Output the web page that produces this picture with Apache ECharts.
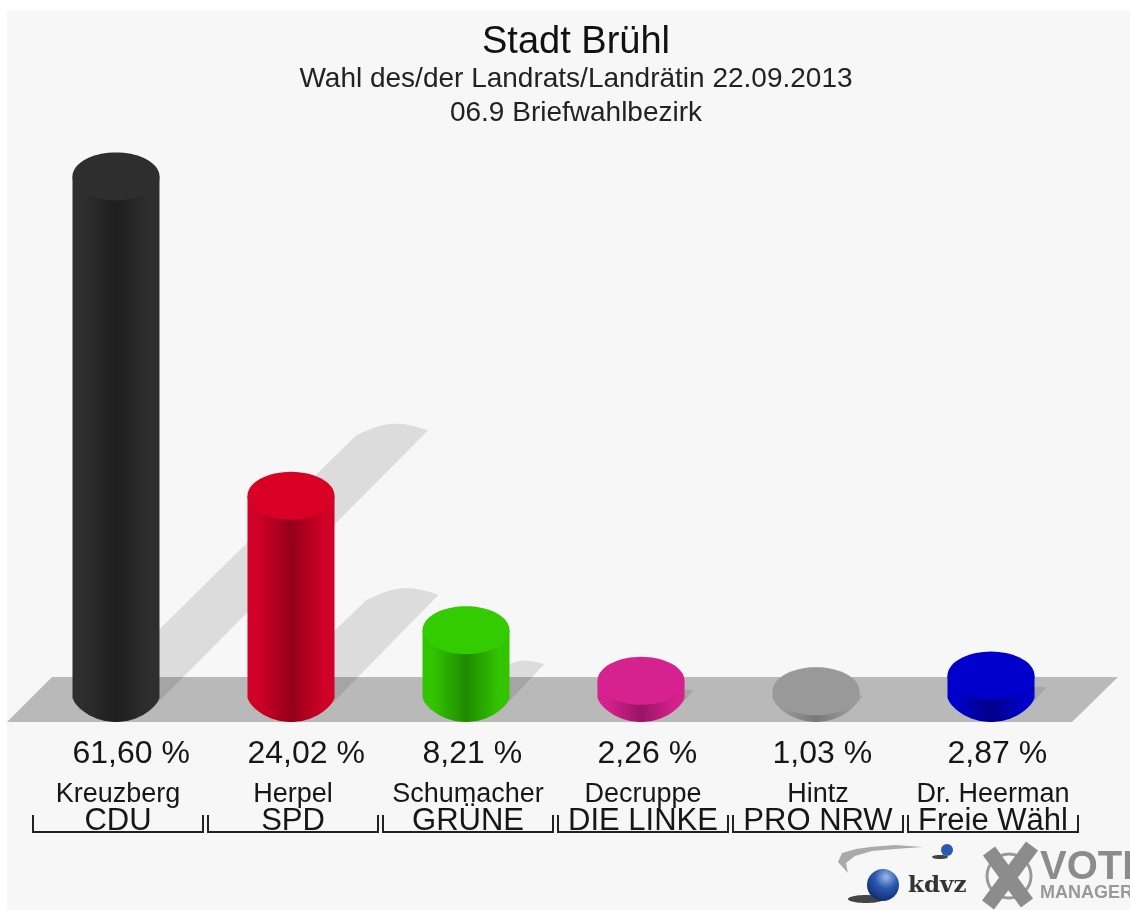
<!DOCTYPE html>
<html><head><meta charset="utf-8">
<style>html,body{margin:0;padding:0;background:#fff}#c{width:1130px;height:910px;filter:blur(0.5px)}</style>
<script src="https://cdn.jsdelivr.net/npm/echarts@6/dist/echarts.min.js"></script>
</head><body><div id="c"></div>
<script>
const parties = ['CDU','SPD','GRÜNE','DIE LINKE','PRO NRW','Freie Wähl'];
const candidates = ['Kreuzberg','Herpel','Schumacher','Decruppe','Hintz','Dr. Heerman'];
const shares = [61.60,24.02,8.21,2.26,1.03,2.87];
const shareLabels = ['61,60 %','24,02 %','8,21 %','2,26 %','1,03 %','2,87 %'];
const topColors = ['#2e2e2e','#d90026','#33cc00','#d6228f','#999999','#0000cc'];
const edgeColors = ['#2e2e2e','#d00026','#33c400','#d4218c','#999999','#0000c8'];
const coreColors = ['#1e1e1e','#94001a','#1f8a00','#981565','#777777','#000088'];
const FONT = '"Liberation Sans", Arial, sans-serif';
const TXT = '#161616';

function ell(cx, cy, rx, ry) {
  const p = [];
  for (let a = 0; a < 72; a++) {
    const t = a / 72 * 2 * Math.PI;
    p.push([cx + rx * Math.cos(t), cy + ry * Math.sin(t)]);
  }
  return p;
}

function renderBar(params, api) {
  const i = api.value(0), v = api.value(1);
  const base = api.coord([i, 0]), top = api.coord([i, v]);
  const cx = base[0], by = base[1], ty = top[1];
  const rx = api.size([1, 0])[0] * 0.2486, ryTop = 24, ryBase = 22;
  const h = by - ty, dy = h * 0.515;
  const bottom = [[cx - rx, ty], [cx - rx, by - 2]];
  for (let a = 1; a < 40; a++) {
    const u = -1 + a / 20;
    bottom.push([cx + rx * u, by - 2 + (ryBase + 2) * Math.pow(1 - u * u, 0.72)]);
  }
  bottom.push([cx + rx, by - 2], [cx + rx, ty]);
  // slanted cast shadow, rounded at its far end
  const tipX = cx + rx - 1 + dy, tipY = by - dy;
  const w = Math.min(72, 10 + dy);
  const sh = [[cx + rx - 1, by + 2], [tipX, tipY]];
  for (let a = 1; a < 20; a++) {
    const t = a / 20;
    sh.push([tipX - w * t, tipY + 5 * t - (w / 8) * Math.sin(Math.PI * t)]);
  }
  sh.push([tipX - w, tipY + 5], [cx - rx + 5, by + 10]);
  const barGrad = { type:'linear', x:0, y:0, x2:1, y2:0, colorStops:[
    {offset:0, color:edgeColors[i]}, {offset:0.12, color:edgeColors[i]},
    {offset:0.5, color:coreColors[i]}, {offset:0.88, color:edgeColors[i]}, {offset:1, color:edgeColors[i]} ]};
  const sy = by + 54, ny = by + 95, py = by + 121;
  const bx0 = cx - 83, bx1 = cx + 87;
  return { type:'group', children:[
    { type:'polygon', z2:1, shape:{points:sh}, style:{fill:'rgba(0,0,0,0.105)'} },
    { type:'polygon', z2:2, shape:{points:bottom}, style:{fill:barGrad} },
    { type:'polygon', z2:3, shape:{points:ell(cx, ty, rx, ryTop)}, style:{fill:topColors[i]} },
    { type:'text', z2:4, style:{text:shareLabels[i], x:cx - rx, y:sy, align:'left', verticalAlign:'middle', fill:TXT, font:'32px '+FONT} },
    { type:'text', z2:4, style:{text:candidates[i], x:cx + 2, y:ny, align:'center', verticalAlign:'middle', fill:TXT, font:'27px '+FONT} },
    { type:'text', z2:4, style:{text:parties[i], x:cx + 2, y:py, align:'center', verticalAlign:'middle', fill:TXT, font:'31px '+FONT} },
    { type:'polyline', z2:4, shape:{points:[[bx0,by+115],[bx0,by+132],[bx1,by+132],[bx1,by+115]]}, style:{stroke:'#222', lineWidth:2, fill:null} }
  ]};
}

const chart = echarts.init(document.getElementById('c'), null, {renderer:'canvas'});
chart.setOption({
  animation:false,
  backgroundColor:'#ffffff',
  title:{ left:571, top:19, textAlign:'center', text:'Stadt Brühl',
    textStyle:{fontFamily:FONT, fontSize:38, fontWeight:'normal', color:'#111'},
    subtext:'Wahl des/der Landrats/Landrätin 22.09.2013\n06.9 Briefwahlbezirk', itemGap:0,
    subtextStyle:{fontFamily:FONT, fontSize:28, color:'#222', lineHeight:34} },
  grid:{ left:28.5, width:1050, top:105, height:595, containLabel:false },
  xAxis:{ type:'category', data:parties, show:false, boundaryGap:true },
  yAxis:{ type:'value', min:0, max:70, show:false },
  graphic:[
    { type:'rect', z:-10, shape:{x:7,y:10,width:1123,height:900}, style:{fill:'#f7f7f7'} },
    { type:'polygon', z:-9, shape:{points:[[7,722],[52,677],[1118,677],[1072,722]]}, style:{fill:'#b9b9b9'} },
    { type:'group', z:5, children:[
      { type:'polygon', shape:{points:[[848,873],[838,862],[842,853],[856,849],[870,847],[895,845],[923,847],[895,849],[872,851],[855,856],[846,863]]}, style:{fill:'#aaaaaa'} },
      { type:'polygon', shape:{points:ell(866,899,18,4)}, style:{fill:'#444'} },
      { type:'circle', shape:{cx:883,cy:885,r:16}, style:{fill:{type:'radial',x:0.6,y:0.25,r:0.8,colorStops:[{offset:0,color:'#9db8e8'},{offset:0.45,color:'#2a58b0'},{offset:1,color:'#0e2a66'}]}} },
      { type:'polygon', shape:{points:ell(940,857,8,2)}, style:{fill:'#444'} },
      { type:'circle', shape:{cx:947,cy:850,r:6}, style:{fill:'#2a58b0'} },
      { type:'text', style:{text:'kdvz', x:908, y:886, verticalAlign:'middle', fill:'#333', font:'bold 23px "DejaVu Serif", serif'} },
      { type:'circle', shape:{cx:1009,cy:876,r:22}, style:{fill:'none',stroke:'#999',lineWidth:3} },
      { type:'polyline', shape:{points:[[989,851],[1027,903]]}, style:{stroke:'#8c8c8c',lineWidth:15,fill:null} },
      { type:'polyline', shape:{points:[[1032,846],[988,905]]}, style:{stroke:'#8c8c8c',lineWidth:15,fill:null} },
      { type:'text', style:{text:'VOTE', x:1040, y:868, verticalAlign:'middle', fill:'#8c8c8c', font:'bold 40px '+FONT} },
      { type:'text', style:{text:'MANAGER', x:1040, y:893, verticalAlign:'middle', fill:'#999', font:'bold 18px '+FONT} }
    ]}
  ],
  series:[{ type:'custom', coordinateSystem:'cartesian2d', clip:false, renderItem:renderBar,
    encode:{x:0,y:1}, data:shares.map((v,i)=>[i,v]) }]
});
</script></body></html>
